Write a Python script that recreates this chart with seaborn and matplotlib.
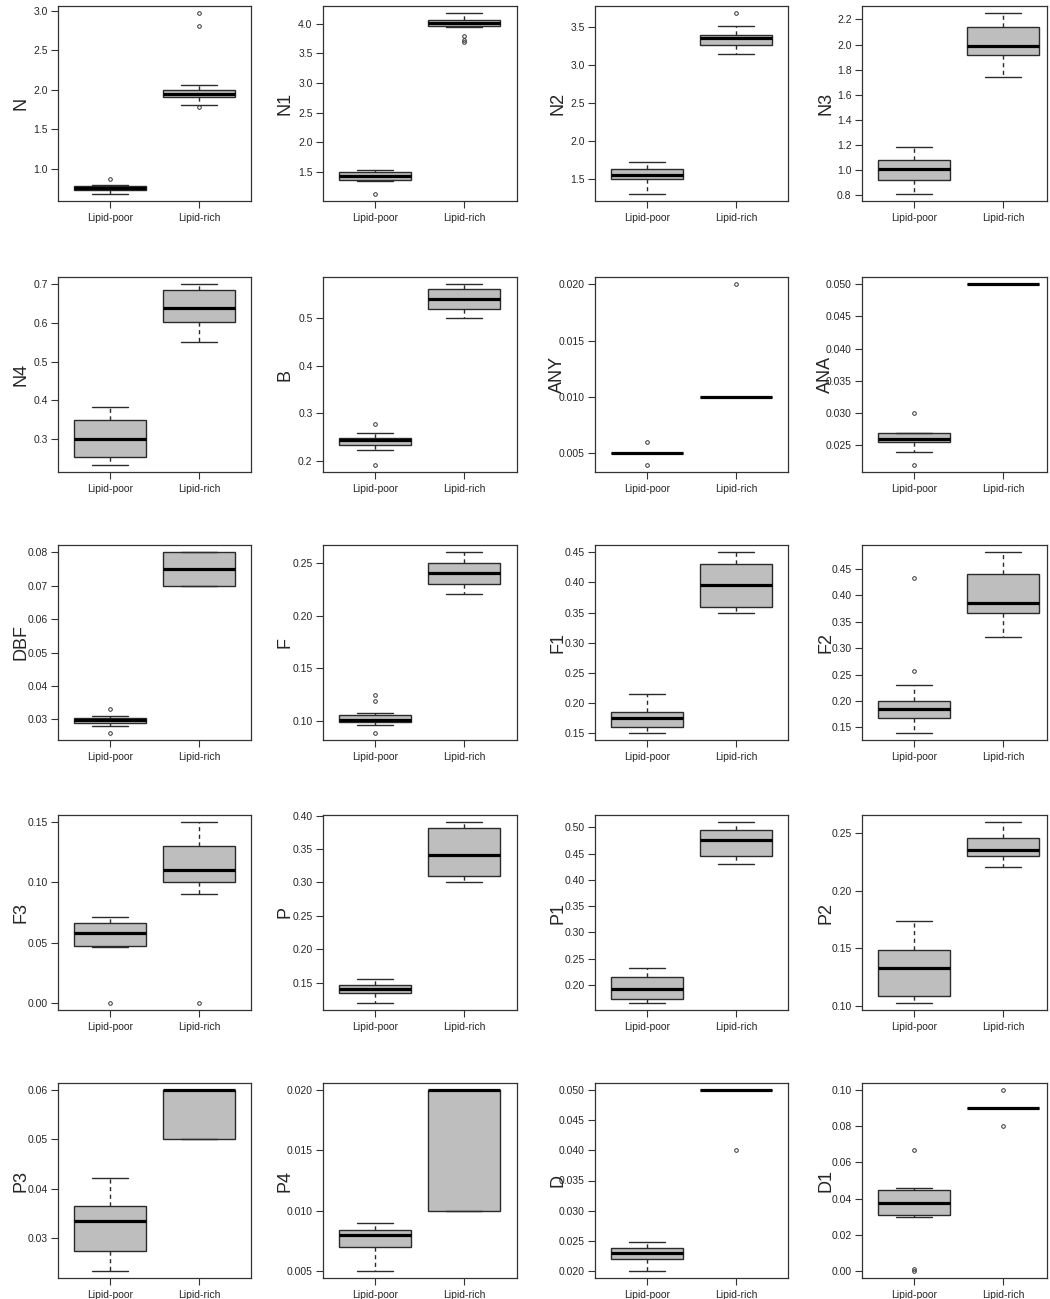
import matplotlib
matplotlib.use("Agg")
import pandas as pd
import matplotlib.pyplot as plt
import seaborn as sns

# Boxplots of fatty acid / nutrient variables, lipid-poor vs lipid-rich

variables = ["N", "N1", "N2", "N3",
             "N4", "B", "ANY", "ANA",
             "DBF", "F", "F1", "F2",
             "F3", "P", "P1", "P2",
             "P3", "P4", "D", "D1"]
groups = ["Lipid-poor", "Lipid-rich"]

# lower whisker, Q1, median, Q3, upper whisker
poor_summary = [
    (0.68, 0.73, 0.75, 0.78, 0.79),
    (1.34, 1.37, 1.43, 1.49, 1.53),
    (1.31, 1.50, 1.55, 1.63, 1.73),
    (0.81, 0.92, 1.01, 1.08, 1.18),
    (0.234, 0.255, 0.300, 0.349, 0.383),
    (0.222, 0.232, 0.243, 0.248, 0.258),
    (0.005, 0.005, 0.005, 0.005, 0.005),
    (0.024, 0.0255, 0.026, 0.027, 0.027),
    (0.028, 0.029, 0.0297, 0.0303, 0.031),
    (0.096, 0.0995, 0.101, 0.106, 0.108),
    (0.151, 0.160, 0.175, 0.186, 0.215),
    (0.140, 0.168, 0.185, 0.200, 0.230),
    (0.046, 0.047, 0.058, 0.066, 0.071),
    (0.120, 0.135, 0.140, 0.147, 0.156),
    (0.166, 0.173, 0.192, 0.216, 0.232),
    (0.103, 0.109, 0.133, 0.149, 0.174),
    (0.0233, 0.0273, 0.0335, 0.0365, 0.0421),
    (0.005, 0.007, 0.008, 0.0084, 0.009),
    (0.020, 0.022, 0.023, 0.0238, 0.0248),
    (0.030, 0.031, 0.0373, 0.0448, 0.0457),
]
rich_summary = [
    (1.81, 1.91, 1.95, 1.99, 2.06),
    (3.94, 3.97, 4.02, 4.06, 4.18),
    (3.14, 3.26, 3.35, 3.40, 3.51),
    (1.74, 1.92, 1.99, 2.14, 2.25),
    (0.551, 0.603, 0.638, 0.684, 0.700),
    (0.500, 0.520, 0.541, 0.561, 0.572),
    (0.010, 0.010, 0.010, 0.010, 0.010),
    (0.050, 0.050, 0.050, 0.050, 0.050),
    (0.070, 0.070, 0.075, 0.080, 0.080),
    (0.220, 0.230, 0.240, 0.250, 0.260),
    (0.350, 0.360, 0.396, 0.430, 0.450),
    (0.320, 0.366, 0.386, 0.440, 0.481),
    (0.090, 0.100, 0.110, 0.130, 0.150),
    (0.300, 0.310, 0.341, 0.381, 0.390),
    (0.430, 0.446, 0.476, 0.496, 0.510),
    (0.220, 0.230, 0.235, 0.245, 0.259),
    (0.050, 0.050, 0.060, 0.060, 0.060),
    (0.010, 0.010, 0.020, 0.020, 0.020),
    (0.050, 0.050, 0.050, 0.050, 0.050),
    (0.090, 0.090, 0.090, 0.090, 0.090),
]
poor_outliers = [
    [0.87], [1.13], [], [],
    [], [0.191, 0.278], [0.004, 0.006], [0.022, 0.030],
    [0.026, 0.033], [0.089, 0.119, 0.125], [], [0.256, 0.433],
    [0.0], [], [], [],
    [], [], [], [0.0, 0.001, 0.067],
]
rich_outliers = [
    [1.78, 2.81, 2.97], [3.70, 3.72, 3.80], [3.68], [],
    [], [], [0.020], [],
    [], [], [], [],
    [0.0], [], [], [],
    [], [], [0.040], [0.080, 0.100],
]
y_ticks = [
    ["1.0", "1.5", "2.0", "2.5", "3.0"],
    ["1.5", "2.0", "2.5", "3.0", "3.5", "4.0"],
    ["1.5", "2.0", "2.5", "3.0", "3.5"],
    ["0.8", "1.0", "1.2", "1.4", "1.6", "1.8", "2.0", "2.2"],
    ["0.3", "0.4", "0.5", "0.6", "0.7"],
    ["0.2", "0.3", "0.4", "0.5"],
    ["0.005", "0.010", "0.015", "0.020"],
    ["0.025", "0.030", "0.035", "0.040", "0.045", "0.050"],
    ["0.03", "0.04", "0.05", "0.06", "0.07", "0.08"],
    ["0.10", "0.15", "0.20", "0.25"],
    ["0.15", "0.20", "0.25", "0.30", "0.35", "0.40", "0.45"],
    ["0.15", "0.20", "0.25", "0.30", "0.35", "0.40", "0.45"],
    ["0.00", "0.05", "0.10", "0.15"],
    ["0.15", "0.20", "0.25", "0.30", "0.35", "0.40"],
    ["0.20", "0.25", "0.30", "0.35", "0.40", "0.45", "0.50"],
    ["0.10", "0.15", "0.20", "0.25"],
    ["0.03", "0.04", "0.05", "0.06"],
    ["0.005", "0.010", "0.015", "0.020"],
    ["0.020", "0.025", "0.030", "0.035", "0.040", "0.045", "0.050"],
    ["0.00", "0.02", "0.04", "0.06", "0.08", "0.10"],
]


def observations(summary, outliers):
    # repeat the hinges so the quartiles fall on the values
    lo, q1, med, q3, hi = summary
    low = [v for v in outliers if v < lo]
    high = [v for v in outliers if v > hi]
    return low + [lo] + [q1] * 4 + [med] * 4 + [q3] * 4 + [hi] + high


rows = []
for i, var in enumerate(variables):
    for g, summ, outl in [(groups[0], poor_summary[i], poor_outliers[i]),
                          (groups[1], rich_summary[i], rich_outliers[i])]:
        for v in observations(summ, outl):
            rows.append({"variable": var, "group": g, "value": v})
df = pd.DataFrame(rows)

sns.set_style("ticks")
plt.rcParams["font.family"] = ["Liberation Sans", "DejaVu Sans"]

fig = plt.figure(figsize=(10.5, 12.99), dpi=100)
W, H = 1050, 1299
col_left = [58, 323, 595, 862]
col_width = [193, 194, 193, 185]
row_top = [6, 277, 545, 815, 1083]
ax_h = 195
px_per_unit = 89.4

for i, var in enumerate(variables):
    r, c = divmod(i, 4)
    ax = fig.add_axes([col_left[c] / W, 1 - (row_top[r] + ax_h) / H,
                       col_width[c] / W, ax_h / H])
    sub = df[df["variable"] == var]
    sns.boxplot(data=sub, x="group", y="value", order=groups, ax=ax,
                color="#BEBEBE", saturation=1, width=0.8,
                linecolor="#2b2b2b", linewidth=1.0, fliersize=2.6, whis=1.5,
                medianprops={"color": "black", "linewidth": 2.3},
                whiskerprops={"linestyle": (0, (3, 2.5))},
                flierprops={"marker": "o", "markerfacecolor": "none",
                            "markeredgecolor": "#333333", "markeredgewidth": 0.7})
    vmin, vmax = sub["value"].min(), sub["value"].max()
    pad = 0.04 * (vmax - vmin)
    ax.set_ylim(vmin - pad, vmax + pad)
    ax.set_xlim(-0.58, -0.58 + col_width[c] / px_per_unit)
    ticks = [float(t) for t in y_ticks[i]]
    ax.set_yticks(ticks)
    ax.set_yticklabels(y_ticks[i])
    ax.set_xlabel("")
    ax.set_ylabel(var, fontsize=13)
    ax.yaxis.set_label_coords(-0.15, 0.5)
    ax.tick_params(axis="both", direction="out", length=5, width=0.8,
                   color="#333333", labelsize=7.5)
    ax.tick_params(axis="y", pad=2.5)
    ax.tick_params(axis="x", pad=3.5)
    for s in ax.spines.values():
        s.set_color("#333333")
        s.set_linewidth(0.9)

fig.savefig("out.png", dpi=100)
